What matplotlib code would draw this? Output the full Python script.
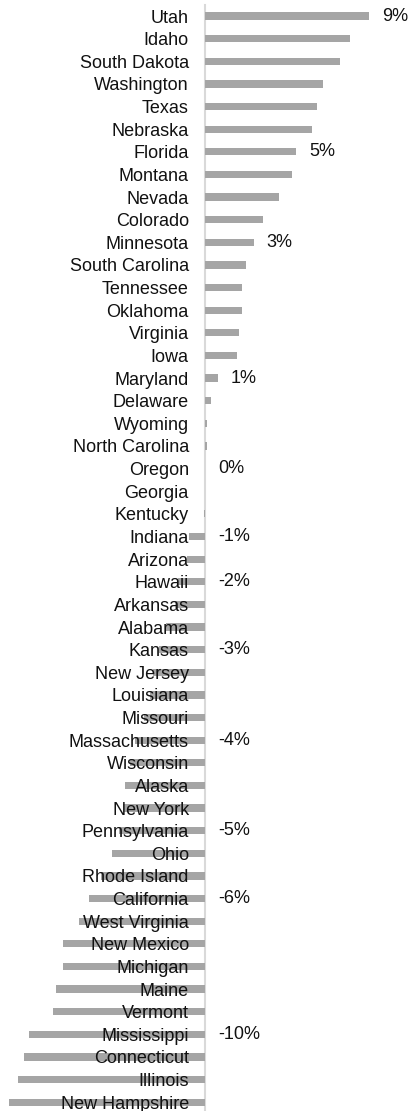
import matplotlib.pyplot as plt

plt.rcParams['font.family'] = ['Liberation Sans', 'DejaVu Sans']

# change in percent, sorted high to low
states = ['Utah', 'Idaho', 'South Dakota', 'Washington', 'Texas', 'Nebraska',
          'Florida', 'Montana', 'Nevada', 'Colorado', 'Minnesota', 'South Carolina',
          'Tennessee', 'Oklahoma', 'Virginia', 'Iowa', 'Maryland', 'Delaware',
          'Wyoming', 'North Carolina', 'Oregon', 'Georgia', 'Kentucky', 'Indiana',
          'Arizona', 'Hawaii', 'Arkansas', 'Alabama', 'Kansas', 'New Jersey',
          'Louisiana', 'Missouri', 'Massachusetts', 'Wisconsin', 'Alaska',
          'New York', 'Pennsylvania', 'Ohio', 'Rhode Island', 'California',
          'West Virginia', 'New Mexico', 'Michigan', 'Maine', 'Vermont',
          'Mississippi', 'Connecticut', 'Illinois', 'New Hampshire']
values = [9.1, 8.05, 7.45, 6.5, 6.2, 5.9,
          5.05, 4.8, 4.1, 3.2, 2.7, 2.25,
          2.05, 2.05, 1.85, 1.75, 0.7, 0.3,
          0.08, 0.07, 0.0, 0.0, -0.08, -0.9,
          -1.0, -1.5, -1.7, -2.2, -2.6, -2.9,
          -3.1, -3.4, -3.9, -4.2, -4.45,
          -4.6, -4.8, -5.2, -5.8, -6.45,
          -7.05, -7.9, -7.9, -8.3, -8.45,
          -9.8, -10.1, -10.4, -10.9]

# rows that carry a value label
label_states = ['Utah', 'Florida', 'Minnesota', 'Maryland', 'Oregon', 'Indiana',
                'Hawaii', 'Kansas', 'Massachusetts', 'Pennsylvania', 'California',
                'Mississippi']
label_texts = ['9%', '5%', '3%', '1%', '0%', '-1%', '-2%', '-3%', '-4%', '-5%',
               '-6%', '-10%']

W, H = 409, 1111
fig = plt.figure(figsize=(W / 100, H / 100), dpi=100)
ax = fig.add_axes([0, 0, 1, 1106 / H])

pos = list(range(len(states)))
ax.barh(pos, values, height=0.32, color='#a5a5a5', zorder=1)

px = 18.0  # pixels per percent
x0 = 205.5
ax.set_xlim(-x0 / px, (W - x0) / px)
ax.set_ylim(48.39, -0.49)

for sp in ['top', 'right', 'bottom']:
    ax.spines[sp].set_visible(False)
ax.spines['left'].set_position(('data', 0))
ax.spines['left'].set_color('#d9d9d9')
ax.spines['left'].set_linewidth(1.5)
ax.spines['left'].set_zorder(0.5)

for s, t in zip(label_states, label_texts):
    i = states.index(s)
    v = max(values[i], 0)
    ax.annotate(t, (v, i), xytext=(9, 0), textcoords='offset points',
                ha='left', va='center', fontsize=13, color='#111111')

ax.set_yticks(pos)
ax.set_yticklabels(states)
ax.tick_params(axis='y', length=0, pad=12, labelsize=13, labelcolor='#111111')
ax.set_xticks([])

fig.savefig('out.png', dpi=100)
